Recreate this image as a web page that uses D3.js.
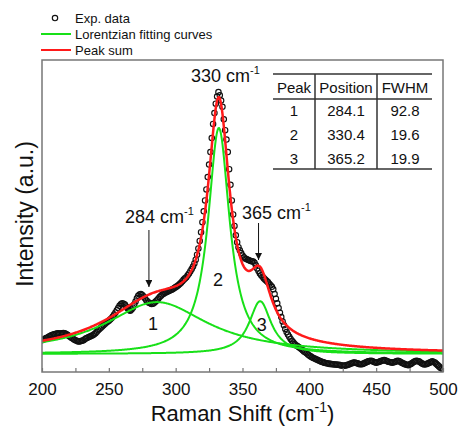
<!DOCTYPE html>
<html>
<head>
<meta charset="utf-8">
<script src="https://cdn.jsdelivr.net/npm/d3@7"></script>
<style>
body { margin: 0; background: #fff; }
text { font-family: "Liberation Sans", Arial, sans-serif; fill: #111; }
</style>
</head>
<body>
<div id="chart"></div>
<script>
const expShift = [200,201,202,203,204,205,206,207,208,209,210,211,212,213,214,215,216,217,218,219,
	220,221,222,223,224,225,226,227,228,229,230,231,232,233,234,235,236,237,238,239,
	240,241,242,243,244,245,246,247,248,249,250,251,252,253,254,255,256,257,258,259,
	260,261,262,263,264,265,266,267,268,269,270,271,272,273,274,275,276,277,278,279,
	280,281,282,283,284,285,286,287,288,289,290,291,292,293,294,295,296,297,298,299,
	300,301,302,303,304,305,306,307,308,309,310,311,312,313,314,315,316,317,318,319,
	320,321,322,323,324,325,326,327,328,329,330,331,332,333,334,335,336,337,338,339,
	340,341,342,343,344,345,346,347,348,349,350,351,352,353,354,355,356,357,358,359,
	360,361,362,363,364,365,366,367,368,369,370,371,372,373,374,375,376,377,378,379,
	380,381,382,383,384,385,386,387,388,389,390,391,392,393,394,395,396,397,398,399,
	400,401,402,403,404,405,406,407,408,409,410,411,412,413,414,415,416,417,418,419,
	420,421,422,423,424,425,426,427,428,429,430,431,432,433,434,435,436,437,438,439,
	440,441,442,443,444,445,446,447,448,449,450,451,452,453,454,455,456,457,458,459,
	460,461,462,463,464,465,466,467,468,469,470,471,472,473,474,475,476,477,478,479,
	480,481,482,483,484,485,486,487,488,489,490,491,492,493,494,495,496,497,498,499,500]
const expIntensity = [10.2,10.4,10.6,10.9,11.0,11.3,11.5,11.8,11.9,12.1,12.2,12.3,12.4,12.3,12.3,12.4,12.5,12.4,12.2,11.9,
	11.6,11.3,11.0,10.7,10.4,10.2,10.0,9.8,9.8,9.9,10.0,10.2,10.5,10.8,11.0,11.2,11.4,11.6,11.8,12.1,
	12.4,12.9,13.4,13.8,14.2,14.6,15.0,15.4,15.8,16.1,16.4,16.8,17.2,17.8,18.4,19.1,19.8,20.5,21.2,21.7,
	22.0,21.9,21.6,21.0,20.4,19.9,19.6,20.0,20.6,21.6,22.6,23.6,24.4,24.8,25.0,24.7,24.2,23.6,23.0,22.6,
	22.2,22.0,21.8,21.9,22.2,22.6,23.0,23.5,24.0,24.4,24.8,25.1,25.4,25.6,25.8,26.0,26.2,26.4,26.6,26.9,
	27.2,27.5,27.8,28.2,28.6,29.1,29.6,30.0,30.4,31.0,31.6,32.3,33.0,33.8,34.8,36.0,37.6,39.6,42.0,44.8,
	48.0,51.5,55.0,58.5,62.5,66.5,70.5,75.0,79.5,83.0,86.0,88.3,89.7,88.7,87.0,85.0,81.0,77.5,74.5,70.5,
	65.0,60.0,55.0,50.5,46.8,43.8,41.6,40.0,39.0,38.1,37.3,36.8,36.4,36.2,36.0,35.8,35.6,35.5,35.4,35.0,
	34.2,33.2,32.4,31.6,31.0,30.5,30.0,29.6,29.2,28.8,28.3,27.8,27.3,26.5,25.0,23.5,22.0,20.5,19.0,17.6,
	16.2,15.0,13.8,12.8,12.0,11.3,10.6,10.0,9.5,9.0,8.6,8.3,8.0,7.7,7.4,7.0,6.6,6.3,6.0,5.6,
	5.3,5.0,4.7,4.5,4.3,4.1,3.9,3.7,3.5,3.3,3.2,3.0,2.9,2.8,2.7,2.6,2.6,2.5,2.5,2.4,
	2.4,2.3,2.3,2.2,2.1,2.1,2.0,2.1,2.2,2.3,2.5,2.7,2.8,3.0,3.0,2.9,2.8,2.6,2.5,2.5,
	2.6,2.8,3.0,3.2,3.4,3.5,3.6,3.5,3.3,3.1,3.0,3.1,3.2,3.4,3.6,3.7,3.8,3.7,3.5,3.3,
	3.2,3.1,3.0,3.1,3.2,3.4,3.6,3.5,3.3,3.0,2.8,2.6,2.4,2.3,2.2,2.4,2.6,2.9,3.2,3.4,
	3.6,3.5,3.4,3.1,2.8,2.6,2.4,2.5,2.6,2.8,3.0,3.2,3.4,3.2,3.0,2.6,2.2,1.8,1.4,1.1,0.8]

// Lorentzian fits as drawn (centres / heights, FWHM from the table)
const peakLabels = ['1', '2', '3']
const fitCenter = [286, 332.3, 363.2]
const fitFwhm = [92.8, 19.6, 19.9]
const fitHeight = [16.6, 72.4, 16.9]
const fitBaseline = 5.8

const xTicks = [200, 250, 300, 350, 400, 450, 500]
const xMinorTicks = [225, 275, 325, 375, 425, 475]

const tableHeader = ['Peak', 'Position', 'FWHM']
const tablePosition = ['284.1', '330.4', '365.2']
const tableFwhm = ['92.8', '19.6', '19.9']

const green = '#18e018'
const red = '#ff1a1a'

var width = 458
var height = 432

var svg = d3.select('#chart')
	.append('svg')
	.attr('width', width)
	.attr('height', height)

var x = d3.scaleLinear().domain([200, 500]).range([42, 443])
var y = d3.scaleLinear().domain([0, 100]).range([372, 60])

function lorentz(v, i) {
	var hw = fitFwhm[i] / 2
	return fitHeight[i] * hw * hw / ((v - fitCenter[i]) * (v - fitCenter[i]) + hw * hw)
}

var grid = d3.range(200, 500.01, 0.5)

var defs = svg.append('defs')
defs.append('marker')
	.attr('id', 'arrow')
	.attr('viewBox', '0 0 10 10')
	.attr('refX', 10)
	.attr('refY', 5)
	.attr('markerWidth', 7)
	.attr('markerHeight', 7)
	.attr('markerUnits', 'userSpaceOnUse')
	.attr('orient', 'auto')
	.append('path')
	.attr('d', 'M0,0L10,5L0,10z')
	.attr('fill', '#111')

defs.append('clipPath')
	.attr('id', 'clip')
	.append('rect')
	.attr('x', 42).attr('y', 60)
	.attr('width', 401).attr('height', 312)

var plot = svg.append('g').attr('clip-path', 'url(#clip)')

// experimental data
plot.append('g')
	.selectAll('circle')
	.data(expShift)
	.enter()
	.append('circle')
	.attr('cx', d => x(d))
	.attr('cy', (d, i) => y(expIntensity[i]))
	.attr('r', 2.7)
	.attr('fill', 'none')
	.attr('stroke', '#111')
	.attr('stroke-width', 1.15)

var line = d3.line()
	.x(d => x(d[0]))
	.y(d => y(d[1]))

// individual fitted peaks
fitCenter.forEach((p, i) => {
	plot.append('path')
		.datum(grid.map(v => [v, fitBaseline + lorentz(v, i)]))
		.attr('d', line)
		.attr('fill', 'none')
		.attr('stroke', green)
		.attr('stroke-width', 2)
})

// peak sum
plot.append('path')
	.datum(grid.map(v => [v, fitBaseline + d3.sum(fitCenter, (p, i) => lorentz(v, i))]))
	.attr('d', line)
	.attr('fill', 'none')
	.attr('stroke', red)
	.attr('stroke-width', 2.5)

// frame
svg.append('rect')
	.attr('x', 42).attr('y', 60)
	.attr('width', 401).attr('height', 312)
	.attr('fill', 'none')
	.attr('stroke', '#777')
	.attr('stroke-width', 1.5)

var xAxis = svg.append('g')
	.attr('transform', 'translate(0,372)')
	.call(d3.axisBottom(x).tickValues(xTicks).tickSize(-4).tickPadding(11).tickFormat(d3.format('d')))
xAxis.select('.domain').remove()
xAxis.selectAll('line').attr('stroke', '#777').attr('stroke-width', 1.2)
xAxis.selectAll('text').style('font-size', '17px').attr('fill', '#111')

var xMinor = svg.append('g')
	.attr('transform', 'translate(0,372)')
	.call(d3.axisBottom(x).tickValues(xMinorTicks).tickSize(-4).tickFormat(''))
xMinor.select('.domain').remove()
xMinor.selectAll('line').attr('stroke', '#777').attr('stroke-width', 1.2)

function cmText(sel, prefix, supSize, rise, suffix) {
	sel.append('tspan').text(prefix + 'cm')
	sel.append('tspan').attr('dy', -rise).style('font-size', supSize + 'px').text('-1')
	if (suffix) sel.append('tspan').attr('dy', rise).text(suffix)
}

// axis titles
var xt = svg.append('text')
	.attr('x', 242.5)
	.attr('y', 421)
	.attr('text-anchor', 'middle')
	.style('font-size', '22px')
cmText(xt, 'Raman Shift (', 14, 9, ')')

svg.append('text')
	.attr('transform', 'translate(33,214) rotate(-90)')
	.attr('text-anchor', 'middle')
	.style('font-size', '23px')
	.text('Intensity (a.u.)')

// legend
svg.append('circle')
	.attr('cx', 55).attr('cy', 18).attr('r', 2.7)
	.attr('fill', 'none').attr('stroke', '#111').attr('stroke-width', 1.15)
svg.append('line')
	.attr('x1', 41).attr('x2', 71).attr('y1', 34).attr('y2', 34)
	.attr('stroke', green).attr('stroke-width', 2)
svg.append('line')
	.attr('x1', 41).attr('x2', 71).attr('y1', 50).attr('y2', 50)
	.attr('stroke', red).attr('stroke-width', 2)
var legendText = ['Exp. data', 'Lorentzian fitting curves', 'Peak sum']
legendText.forEach((t, i) => {
	svg.append('text')
		.attr('x', 75)
		.attr('y', 23 + i * 16)
		.style('font-size', '13px')
		.text(t)
})

// peak annotations
var a330 = svg.append('text')
	.attr('x', 191).attr('y', 82)
	.style('font-size', '18px')
cmText(a330, '330 ', 11, 8)

var a284 = svg.append('text')
	.attr('x', 125).attr('y', 223)
	.style('font-size', '18px')
cmText(a284, '284 ', 11, 8)

var a365 = svg.append('text')
	.attr('x', 242).attr('y', 219)
	.style('font-size', '18px')
cmText(a365, '365 ', 11, 8)

svg.append('line')
	.attr('x1', x(280)).attr('x2', x(280))
	.attr('y1', 230).attr('y2', 287)
	.attr('stroke', '#111').attr('stroke-width', 1)
	.attr('marker-end', 'url(#arrow)')
svg.append('line')
	.attr('x1', x(362)).attr('x2', x(362))
	.attr('y1', 223).attr('y2', 260)
	.attr('stroke', '#111').attr('stroke-width', 1)
	.attr('marker-end', 'url(#arrow)')

var numPos = [[283, 13.6], [331.6, 27.6], [364.5, 13.1]]
peakLabels.forEach((t, i) => {
	svg.append('text')
		.attr('x', x(numPos[i][0]))
		.attr('y', y(numPos[i][1]))
		.attr('text-anchor', 'middle')
		.style('font-size', '18px')
		.text(t)
})

// table
var tbl = svg.append('g')
var colX = [294, 346, 405]
tbl.append('line').attr('x1', 273).attr('x2', 432).attr('y1', 74).attr('y2', 74)
tbl.append('line').attr('x1', 273).attr('x2', 432).attr('y1', 99).attr('y2', 99)
tbl.append('line').attr('x1', 273).attr('x2', 432).attr('y1', 169).attr('y2', 169)
tbl.append('line').attr('x1', 315).attr('x2', 315).attr('y1', 74).attr('y2', 169)
tbl.append('line').attr('x1', 377).attr('x2', 377).attr('y1', 74).attr('y2', 169)
tbl.selectAll('line').attr('stroke', '#333').attr('stroke-width', 1.5)

tableHeader.forEach((t, i) => {
	tbl.append('text')
		.attr('x', colX[i]).attr('y', 93)
		.attr('text-anchor', 'middle')
		.style('font-size', '15px')
		.text(t)
})
peakLabels.forEach((p, r) => {
	[p, tablePosition[r], tableFwhm[r]].forEach((t, i) => {
		tbl.append('text')
			.attr('x', colX[i]).attr('y', 116 + r * 24)
			.attr('text-anchor', 'middle')
			.style('font-size', '15px')
			.text(t)
	})
})
</script>
</body>
</html>
